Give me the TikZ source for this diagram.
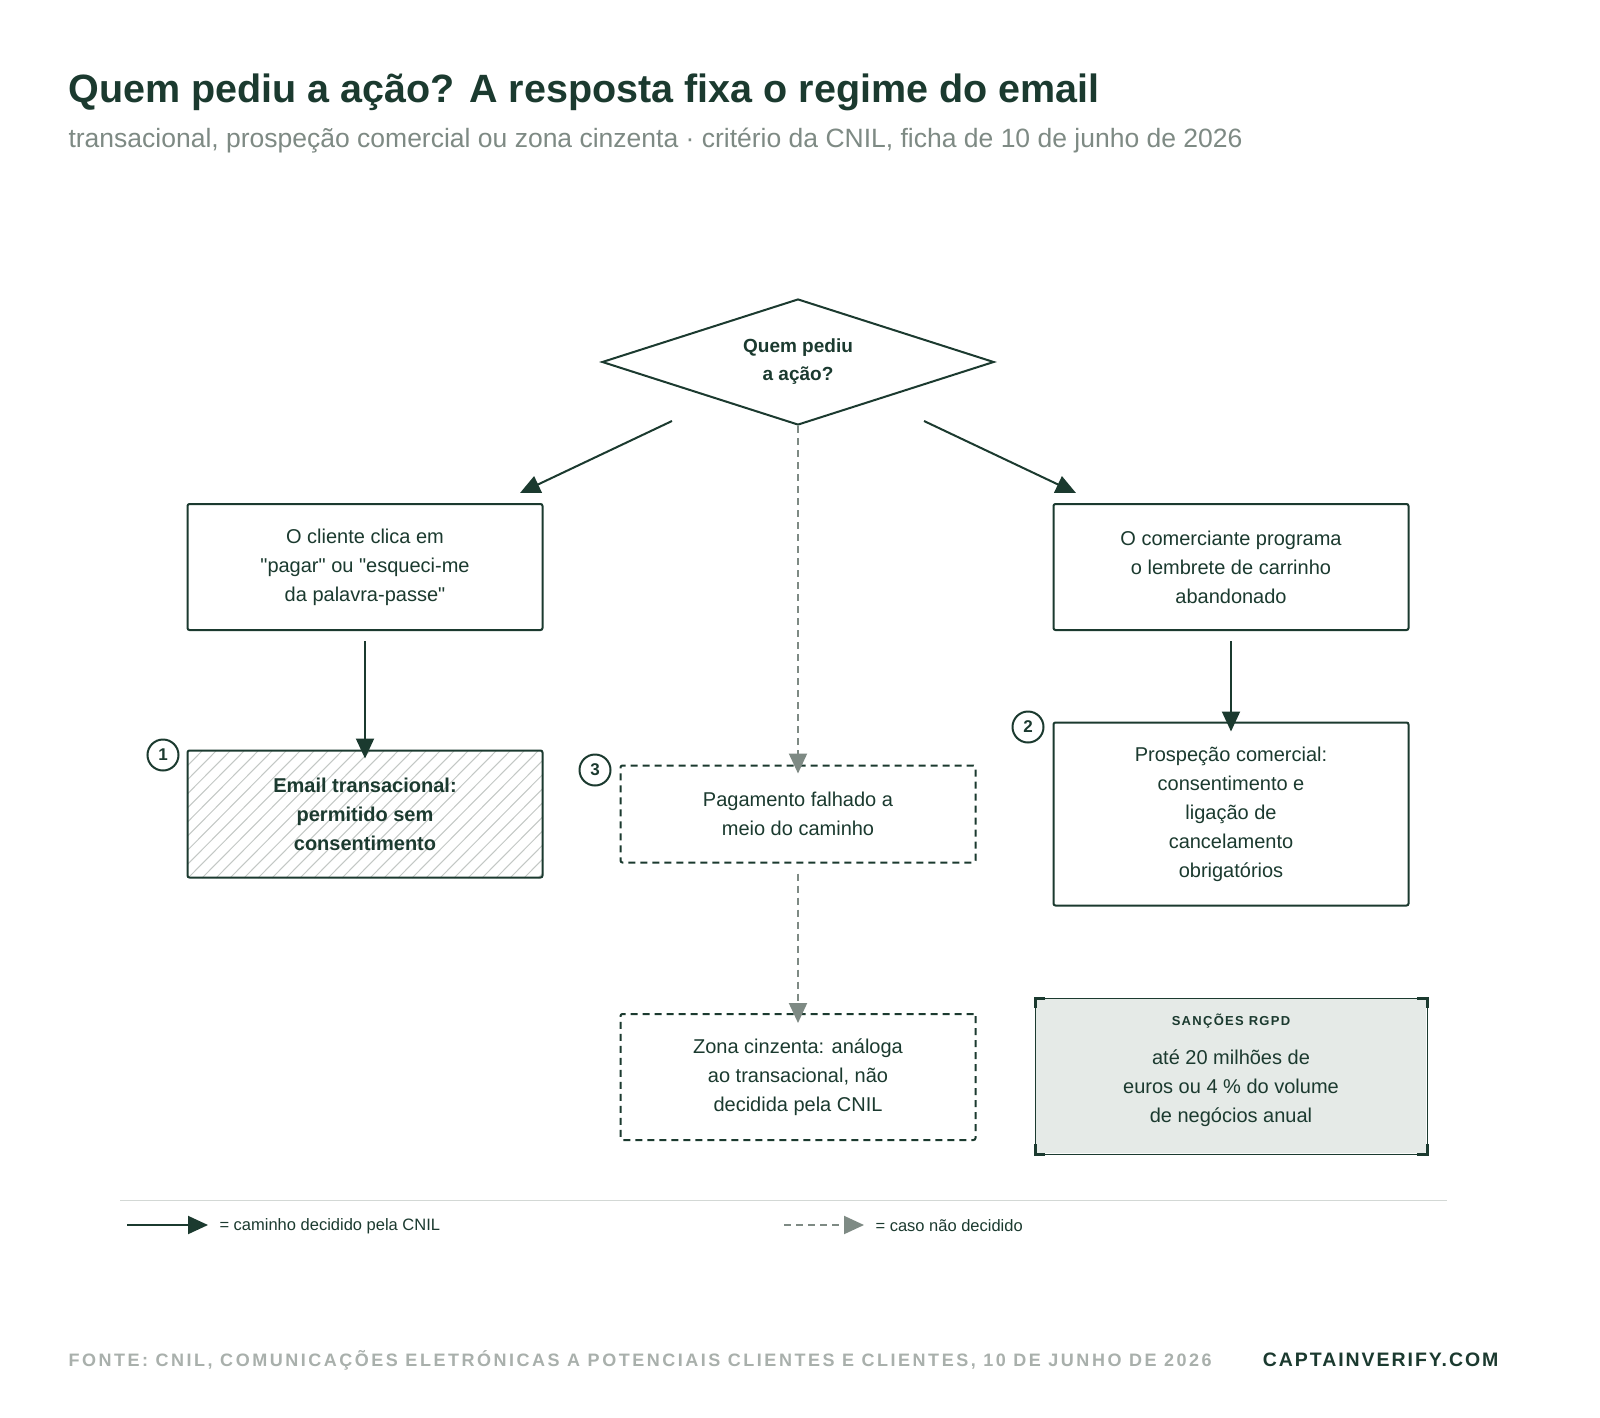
\documentclass[tikz,border=0pt]{standalone}
\usepackage{fontspec}
\setmainfont{Liberation Sans}
\newfontfamily\plainfont{Liberation Sans}
\usetikzlibrary{shapes.geometric,arrows.meta,positioning}
\definecolor{ink}{HTML}{1B3A2F}
\definecolor{mute}{HTML}{7E8A84}
\definecolor{lite}{HTML}{A9B0AC}
\definecolor{panel}{HTML}{E5EAE7}
\newcommand\dq{{\plainfont"}}
\tikzset{
  box/.style={draw=ink, line width=2pt, rounded corners=2pt, minimum width=355pt, align=center, text=ink, font=\fontsize{20}{29}\selectfont},
  open/.style={box, dashed, dash pattern=on 7pt off 5pt},
  path/.style={-{Triangle[length=20pt,width=18pt]}, draw=ink, line width=2pt},
  maybe/.style={-{Triangle[length=20pt,width=18pt]}, draw=mute, line width=2pt, dash pattern=on 7pt off 5pt, color=mute},
  num/.style={circle, draw=ink, line width=2pt, minimum size=31pt, inner sep=0pt, text=ink, font=\bfseries\fontsize{17}{17}\selectfont},
}
\begin{document}
\begin{tikzpicture}[x=1pt,y=-1pt]
\useasboundingbox[fill=white] (0,0) rectangle (1600,1418);

\node[anchor=west, text=ink, font=\bfseries\fontsize{39.5}{40}\selectfont] at (65,92) {Quem pediu a ação? A resposta fixa o regime do email};
\node[anchor=west, text=mute, font=\fontsize{26.5}{26}\selectfont] at (65,141) {transacional, prospeção comercial ou zona cinzenta · critério da CNIL, ficha de 10 de junho de 2026};

% decision
\node[diamond, draw=ink, line width=2pt, aspect=3.1, minimum width=392pt, minimum height=126pt, inner sep=0pt, align=center, text=ink, font=\bfseries\fontsize{19}{28}\selectfont] (ask) at (798,362) {Quem pediu\\a ação?};

\node[box, minimum height=126pt] (click) at (365,567) {O cliente clica em\\\dq pagar\dq{} ou \dq esqueci-me\\da palavra-passe\dq};
\node[box, minimum height=126pt] (shop) at (1231,567) {O comerciante programa\\o lembrete de carrinho\\abandonado};

% hatched result
\begin{scope}
  \clip (188,751) rectangle (543,878);
  \foreach \i in {0,14,...,520} \draw[lite!70, line width=1pt] (188+\i-126,878) -- (188+\i,751);
\end{scope}
\node[box, minimum height=127pt, font=\bfseries\fontsize{20}{29}\selectfont] (mail) at (365,814) {Email transacional:\\permitido sem\\consentimento};
\node[open, minimum height=97pt] (fail) at (798,814) {Pagamento falhado a\\meio do caminho};
\node[open, minimum height=126pt] (grey) at (798,1077) {Zona cinzenta: análoga\\ao transacional, não\\decidida pela CNIL};
\node[box, minimum height=183pt] (pros) at (1231,814) {Prospeção comercial:\\consentimento e\\ligação de\\cancelamento\\obrigatórios};

% sanctions panel
\node[box, draw=none, fill=panel, minimum width=390pt, minimum height=154pt] (fine) at (1231,1076) {};
\draw[ink, line width=1pt] (fine.south west) rectangle (fine.north east);
\foreach \a/\dx/\dy in {north west/1/1, north east/-1/1, south west/1/-1, south east/-1/-1}
  \draw[ink, line width=3pt] ([xshift=\dx*10pt]fine.\a) -- (fine.\a) -- ([yshift=-\dy*10pt]fine.\a);
\node[text=ink, font=\bfseries\fontsize{13}{13}\selectfont] at (1231,1021) {\addfontfeature{LetterSpace=10}SANÇÕES RGPD};
\node[align=center, text=ink, font=\fontsize{20}{29}\selectfont] at (1231,1088) {até 20 milhões de\\euros ou 4 \% do volume\\de negócios anual};

% numbers
\node[num] at (163,755) {1};
\node[num] at (1028,727) {2};
\node[num] at (595,770) {3};

% connectors
\coordinate (askL) at (672,421);
\coordinate (askR) at (924,421);
\draw[path] (askL) -- (520,493);
\draw[path] (askR) -- (1076,493);
\draw[maybe] (ask.south) -- ([yshift=-9pt]fail.north);
\draw[path] ([yshift=-10pt]click.south) -- ([yshift=-9pt]mail.north);
\draw[path] ([yshift=-10pt]shop.south) -- ([yshift=-10pt]pros.north);
\draw[maybe] ([yshift=-10pt]fail.south) -- ([yshift=-10pt]grey.north);

% legend
\draw[panel!70!lite, line width=1pt] (120,1200) -- (1447,1200);
\coordinate (l1) at (127,1225);
\coordinate (l2) at (784,1225);
\draw[path] (l1) -- ++(81,0);
\node[anchor=west, text=ink, font=\fontsize{16.5}{16}\selectfont] at (216,1226) {= caminho decidido pela CNIL};
\draw[maybe] (l2) -- ++(80,0);
\node[anchor=west, text=ink, font=\fontsize{16.5}{16}\selectfont] at (872,1226) {= caso não decidido};

% footer
\node[anchor=west, text=lite, font=\bfseries\fontsize{18}{18}\selectfont] at (65,1360) {\addfontfeature{LetterSpace=14}FONTE: CNIL, COMUNICAÇÕES ELETRÓNICAS A POTENCIAIS CLIENTES E CLIENTES, 10 DE JUNHO DE 2026};
\node[anchor=east, text=ink, font=\bfseries\fontsize{19.5}{19}\selectfont] at (1502,1360) {\addfontfeature{LetterSpace=10}CAPTAINVERIFY.COM};
\end{tikzpicture}
\end{document}
